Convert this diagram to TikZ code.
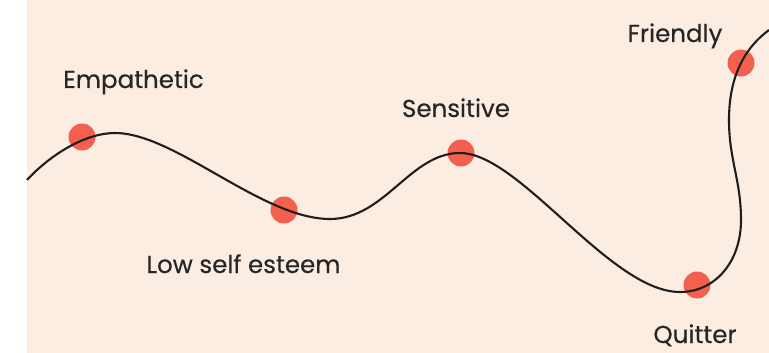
\documentclass[tikz,border=0pt]{standalone}
\usepackage{fontspec}
\setmainfont{Poppins}
\definecolor{peach}{HTML}{FCEDE3}
\definecolor{coral}{HTML}{F4604F}
\definecolor{txt}{HTML}{262626}
\definecolor{curve}{HTML}{1E1E1E}
\begin{document}
\begin{tikzpicture}[x=1pt,y=-1pt,
  dot/.style={circle,fill=coral,minimum size=27pt,inner sep=0pt},
  lbl/.style={anchor=base,text=txt,font=\fontsize{24.5}{29}\selectfont\addfontfeature{FakeBold=0.4},inner sep=0pt},
  wave/.style={draw=curve,line width=2.1pt}]
\useasboundingbox (0,0) rectangle (769,353);
\fill[white] (0,0) rectangle (27,353);
\fill[peach] (27,0) rectangle (769,353);
% dots
\node[dot] (emp) at (82,137) {};
\node[dot] (low) at (284,210) {};
\node[dot] (sen) at (461,153) {};
\node[dot] (qui) at (697,285) {};
\node[dot] (fri) at (741,63) {};
% curve
\coordinate (s) at (27,180);
\coordinate (e) at (769,30);
\draw[wave] (s) .. controls (50,155) and (85,133) .. (115,133)
  .. controls (175,133) and (262,219) .. (330,219)
  .. controls (385,219) and (410,153) .. (460,153)
  .. controls (520,153) and (610,292) .. (680,292)
  .. controls (715,292) and (741,262) .. (741,220)
  .. controls (741,180) and (729,160) .. (729,120)
  .. controls (729,80) and (742,50) .. (e);
% labels
\node[lbl] (lemp) at (133.5,88) {Empathetic};
\node[lbl] (llow) at (243.5,273) {Low self esteem};
\node[lbl] (lsen) at (456,117) {Sensitive};
\node[lbl] (lfri) at (675,42) {Friendly};
\node[lbl] (lqui) at (695,343) {Quitter};
\end{tikzpicture}
\end{document}
